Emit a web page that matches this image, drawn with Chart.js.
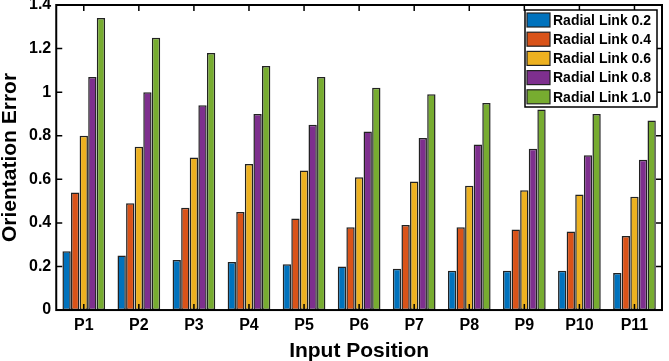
<!DOCTYPE html>
<html>
<head>
<meta charset="utf-8">
<script src="https://cdn.jsdelivr.net/npm/chart.js@4.4.0/dist/chart.umd.min.js"></script>
<style>
  html, body { margin: 0; padding: 0; background: #fff; }
  #wrap { width: 669px; height: 361px; }
</style>
</head>
<body>
<div id="wrap"><canvas id="myChart"></canvas></div>
<script>
// data
var positions = ['P1', 'P2', 'P3', 'P4', 'P5', 'P6', 'P7', 'P8', 'P9', 'P10', 'P11'];
var link02 = [0.27, 0.25, 0.23, 0.22, 0.21, 0.20, 0.19, 0.18, 0.18, 0.18, 0.17];
var link04 = [0.54, 0.49, 0.47, 0.45, 0.42, 0.38, 0.39, 0.38, 0.37, 0.36, 0.34];
var link06 = [0.80, 0.75, 0.70, 0.67, 0.64, 0.61, 0.59, 0.57, 0.55, 0.53, 0.52];
var link08 = [1.07, 1.00, 0.94, 0.90, 0.85, 0.82, 0.79, 0.76, 0.74, 0.71, 0.69];
var link10 = [1.34, 1.25, 1.18, 1.12, 1.07, 1.02, 0.99, 0.95, 0.92, 0.90, 0.87];
var seriesNames = ['Radial Link 0.2', 'Radial Link 0.4', 'Radial Link 0.6', 'Radial Link 0.8', 'Radial Link 1.0'];
var yTicks = [0, 0.2, 0.4, 0.6, 0.8, 1, 1.2, 1.4];

var colors = ['#0072BD', '#D95319', '#EDB120', '#7E2F8E', '#77AC30'];
var FONT = '"Liberation Sans", Arial, sans-serif';

var datasets = [link02, link04, link06, link08, link10].map(function (vals, i) {
    return {
        label: seriesNames[i],
        data: vals,
        backgroundColor: colors[i],
        borderColor: '#222',
        borderWidth: 1.5,
        borderSkipped: false,
        barPercentage: 0.97,
        categoryPercentage: 0.78
    };
});

// frame with inward ticks, plus the boxed legend
var framePlugin = {
    id: 'frame',
    afterDraw: function (chart) {
        var ctx = chart.ctx;
        var a = chart.chartArea;
        var xs = chart.scales.x, ys = chart.scales.y;
        ctx.save();
        ctx.strokeStyle = '#000';
        ctx.lineWidth = 2;
        ctx.strokeRect(a.left, a.top, a.right - a.left, a.bottom - a.top);

        ctx.lineWidth = 1.5;
        ctx.beginPath();
        for (var i = 0; i < positions.length; i++) {
            var x = xs.getPixelForValue(i);
            ctx.moveTo(x, a.bottom); ctx.lineTo(x, a.bottom - 6);
            ctx.moveTo(x, a.top); ctx.lineTo(x, a.top + 6);
        }
        yTicks.forEach(function (v) {
            var y = ys.getPixelForValue(v);
            ctx.moveTo(a.left, y); ctx.lineTo(a.left + 6, y);
            ctx.moveTo(a.right, y); ctx.lineTo(a.right - 6, y);
        });
        ctx.stroke();

        // legend
        var lx = 525, ly = 10, lw = 132, rowH = 19.2;
        var lh = 97;
        ctx.fillStyle = '#fff';
        ctx.fillRect(lx, ly, lw, lh);
        ctx.lineWidth = 1.5;
        ctx.strokeStyle = '#000';
        ctx.strokeRect(lx, ly, lw, lh);
        ctx.font = 'bold 14px ' + FONT;
        ctx.textBaseline = 'middle';
        chart.data.datasets.forEach(function (ds, i) {
            var cy = ly + 10 + rowH * i;
            ctx.fillStyle = ds.backgroundColor;
            ctx.fillRect(lx + 2, cy - 7, 23, 14);
            ctx.strokeStyle = '#222';
            ctx.lineWidth = 1.2;
            ctx.strokeRect(lx + 2, cy - 7, 23, 14);
            ctx.fillStyle = '#000';
            ctx.fillText(ds.label, lx + 28, cy + 1);
        });
        ctx.restore();
    }
};

new Chart(document.getElementById('myChart').getContext('2d'), {
    type: 'bar',
    data: { labels: positions, datasets: datasets },
    options: {
        responsive: true,
        maintainAspectRatio: false,
        animation: false,
        layout: { padding: { top: -1, right: 7, left: 0, bottom: 0 } },
        plugins: {
            legend: { display: false },
            tooltip: { enabled: false }
        },
        scales: {
            x: {
                grid: { display: false, drawTicks: false, tickLength: 0 },
                border: { display: false },
                ticks: { color: '#000', font: { family: FONT, size: 16, weight: 'bold', lineHeight: 1.0 }, padding: 7.5 },
                title: { display: true, text: 'Input Position', color: '#000', font: { family: FONT, size: 21, weight: 'bold', lineHeight: 0.95 }, padding: { top: 0, bottom: 0 } }
            },
            y: {
                min: 0,
                max: 1.4,
                grid: { display: false, drawTicks: false, tickLength: 0 },
                border: { display: false },
                afterBuildTicks: function (axis) {
                    axis.ticks = yTicks.map(function (v) { return { value: v }; });
                },
                ticks: {
                    color: '#000',
                    font: { family: FONT, size: 16, weight: 'bold', lineHeight: 0 },
                    padding: 5,
                    callback: function (v) { return String(Math.round(v * 10) / 10); }
                },
                title: { display: true, text: 'Orientation Error', color: '#000', font: { family: FONT, size: 21, weight: 'bold', lineHeight: 1.0 }, padding: { top: 0, bottom: 3 } }
            }
        }
    },
    plugins: [framePlugin]
});
</script>
</body>
</html>
